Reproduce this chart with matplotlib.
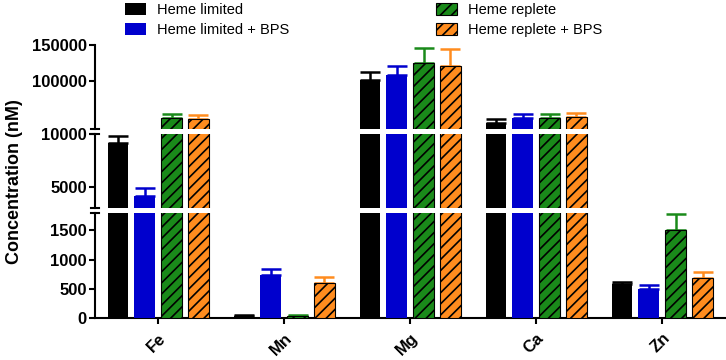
import matplotlib

matplotlib.use("Agg")
import matplotlib.pyplot as plt
import numpy as np
from matplotlib.patches import Patch

plt.rcParams["font.family"] = ["Liberation Sans", "DejaVu Sans"]
plt.rcParams["hatch.linewidth"] = 1.2

# data (nM)
ELEMENTS = ["Fe", "Mn", "Mg", "Ca", "Zn"]
SERIES = ["Heme limited", "Heme limited + BPS", "Heme replete", "Heme replete + BPS"]
heme_limited = [9150, 35, 101000, 42000, 585]
heme_limited_err = [650, 8, 11000, 4700, 40]
heme_limited_bps = [4150, 730, 108000, 48000, 505]
heme_limited_bps_err = [750, 110, 13500, 6000, 60]
heme_replete = [49000, 40, 125000, 48000, 1500]
heme_replete_err = [5500, 10, 21000, 6000, 290]
heme_replete_bps = [47000, 600, 121000, 49500, 690]
heme_replete_bps_err = [5500, 105, 24000, 6500, 90]

VALUES = [heme_limited, heme_limited_bps, heme_replete, heme_replete_bps]
ERRORS = [heme_limited_err, heme_limited_bps_err, heme_replete_err, heme_replete_bps_err]
COLORS = ["#000000", "#0000cd", "#1a8a1a", "#ff8c1e"]
HATCHED = [False, False, True, True]

# broken y axis: (ymin, ymax, ticks) top to bottom, plus figure rows (bottom, height)
SEGMENTS = [
    (33300, 150000, [100000, 150000]),
    (3000, 10000, [5000, 10000]),
    (0, 1800, [0, 500, 1000, 1500]),
]
ROWS = [(0.6417, 0.2333), (0.4222, 0.2056), (0.1167, 0.2917)]
LEFT, WIDTH = 0.1309, 0.8678

PITCH = 0.214
BAR_W = 0.16

fig = plt.figure(figsize=(7.26, 3.6), dpi=100)
x = np.arange(len(ELEMENTS))
axes = []
for k, ((lo, hi, ticks), (b, h)) in enumerate(zip(SEGMENTS, ROWS)):
    ax = fig.add_axes([LEFT, b, WIDTH, h])
    axes.append(ax)
    for i, (vals, errs, col, hat) in enumerate(zip(VALUES, ERRORS, COLORS, HATCHED)):
        xs = x + (i - 1.5) * PITCH
        ax.errorbar(xs, vals, yerr=[np.zeros(len(vals)), errs], fmt="none",
                    ecolor=col, elinewidth=1.8, capsize=7, capthick=1.8, zorder=2)
        if hat:
            ax.bar(xs, vals, width=BAR_W, color=col, edgecolor="black",
                   hatch="///", linewidth=0.8, zorder=3)
        else:
            ax.bar(xs, vals, width=BAR_W, color=col, linewidth=0, zorder=3)
    ax.set_xlim(-0.5, len(ELEMENTS) - 0.5)
    ax.set_ylim(lo, hi)
    ax.set_yticks(ticks)
    ax.set_yticklabels([str(t) for t in ticks], fontsize=12, fontweight="bold")
    ax.tick_params(axis="y", direction="out", length=4, width=1.5, pad=2)
    ax.spines["top"].set_visible(False)
    ax.spines["right"].set_visible(False)
    ax.spines["left"].set_linewidth(1.5)
    d = 0.006
    if k > 0:
        ax.plot([-d, d], [1, 1], transform=ax.transAxes, color="black", lw=1.5, clip_on=False)
    if k < len(SEGMENTS) - 1:
        ax.plot([-d, d], [0, 0], transform=ax.transAxes, color="black", lw=1.5, clip_on=False)
        ax.spines["bottom"].set_visible(False)
        ax.set_xticks([])
    else:
        ax.spines["bottom"].set_linewidth(1.5)
        ax.set_xticks(x)
        ax.set_xticklabels(ELEMENTS, fontsize=12, fontweight="bold", rotation=45,
                           ha="right", va="top", rotation_mode="anchor")
        ax.tick_params(axis="x", direction="out", length=4, width=1.5, pad=5)

fig.text(0.02, 0.497, "Concentration (nM)", rotation=90, ha="center", va="center",
         fontsize=13, fontweight="bold")

handles = []
for s, col, hat in zip(SERIES, COLORS, HATCHED):
    if hat:
        handles.append(Patch(facecolor=col, edgecolor="black", hatch="///", linewidth=0.8, label=s))
    else:
        handles.append(Patch(facecolor=col, edgecolor="none", label=s))
fig.legend(handles=handles, loc="upper left", bbox_to_anchor=(0.168, 1.0), ncol=2,
           frameon=False, fontsize=10.5, handlelength=1.44, handleheight=0.9,
           handletextpad=0.75, columnspacing=10.1, labelspacing=0.42,
           borderpad=0.2, borderaxespad=0)

fig.savefig("out.png", dpi=100)
